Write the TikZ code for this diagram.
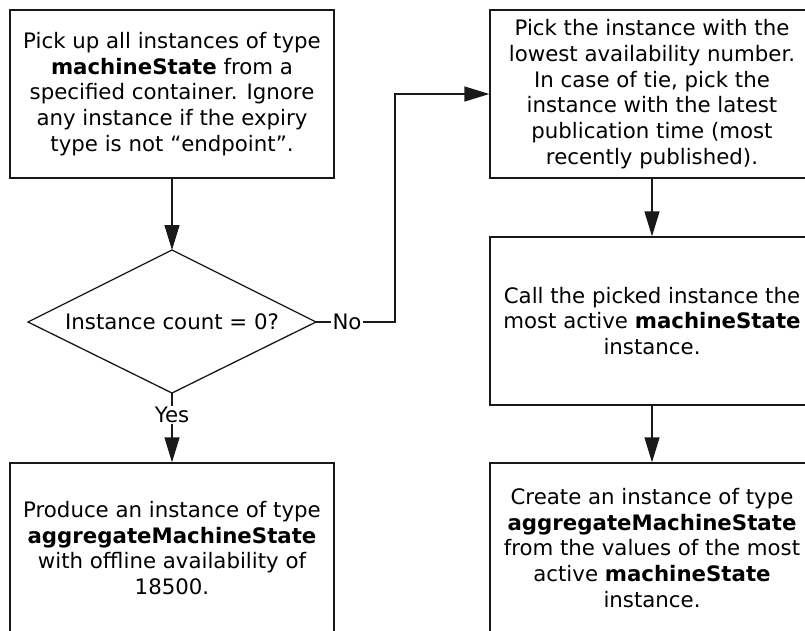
\documentclass[tikz,border=0pt]{standalone}
\usepackage{fontspec}
\setmainfont{DejaVu Sans}
\usetikzlibrary{arrows.meta}
\begin{document}
\begin{tikzpicture}[x=1pt,y=-1pt,
  lw/.style={line width=1.3pt,draw=black!90},
  box/.style={lw,rectangle,minimum width=324pt,minimum height=168pt,align=center,inner sep=0pt,
    font=\fontsize{21.3}{25.7}\selectfont},
  txt/.style={inner sep=0pt,font=\fontsize{21.3}{25.7}\selectfont},
  lab/.style={fill=white,inner sep=1.5pt,font=\fontsize{21.3}{25.7}\selectfont},
  arr/.style={lw,-{Triangle[length=25pt,width=15pt]}}]
\useasboundingbox (0,0) rectangle (805,630);
\begin{scope}
\clip (0,0) rectangle (805,630);
\node[box] (b1) at (172,94) {Pick up all instances of type\\\textbf{machineState} from a\\specified container. Ignore\\any instance if the expiry\\type is not “endpoint”.};
\coordinate (dn) at (172,250);
\coordinate (de) at (316,322);
\coordinate (ds) at (172,393);
\coordinate (dw) at (28,322);
\draw[lw] (dn) -- (de) -- (ds) -- (dw) -- cycle;
\node[txt] (d) at (172,322) {Instance count = 0?};
\node[box] (b2) at (652,94) {Pick the instance with the\\lowest availability number.\\In case of tie, pick the\\instance with the latest\\publication time (most\\recently published).};
\node[box] (b3) at (652,321) {Call the picked instance the\\most active \textbf{machineState}\\instance.};
\node[box,minimum height=170pt] (b4) at (172,548) {Produce an instance of type\\\textbf{aggregateMachineState}\\with offline availability of\\18500.};
\node[box,minimum height=170pt] (b5) at (652,548) {Create an instance of type\\\textbf{aggregateMachineState}\\from the values of the most\\active \textbf{machineState}\\instance.};
\coordinate (c1) at (395,322);
\draw[arr] (b1.south) -- (dn);
\draw[arr] (de) -- (c1) |- (b2.west);
\node[lab] (no) at (347,322) {No};
\draw[arr] (ds) -- (b4.north);
\node[lab] (yes) at (172,415) {Yes};
\draw[arr] (b2.south) -- (b3.north);
\draw[arr] (b3.south) -- (b5.north);
\end{scope}
\end{tikzpicture}
\end{document}
